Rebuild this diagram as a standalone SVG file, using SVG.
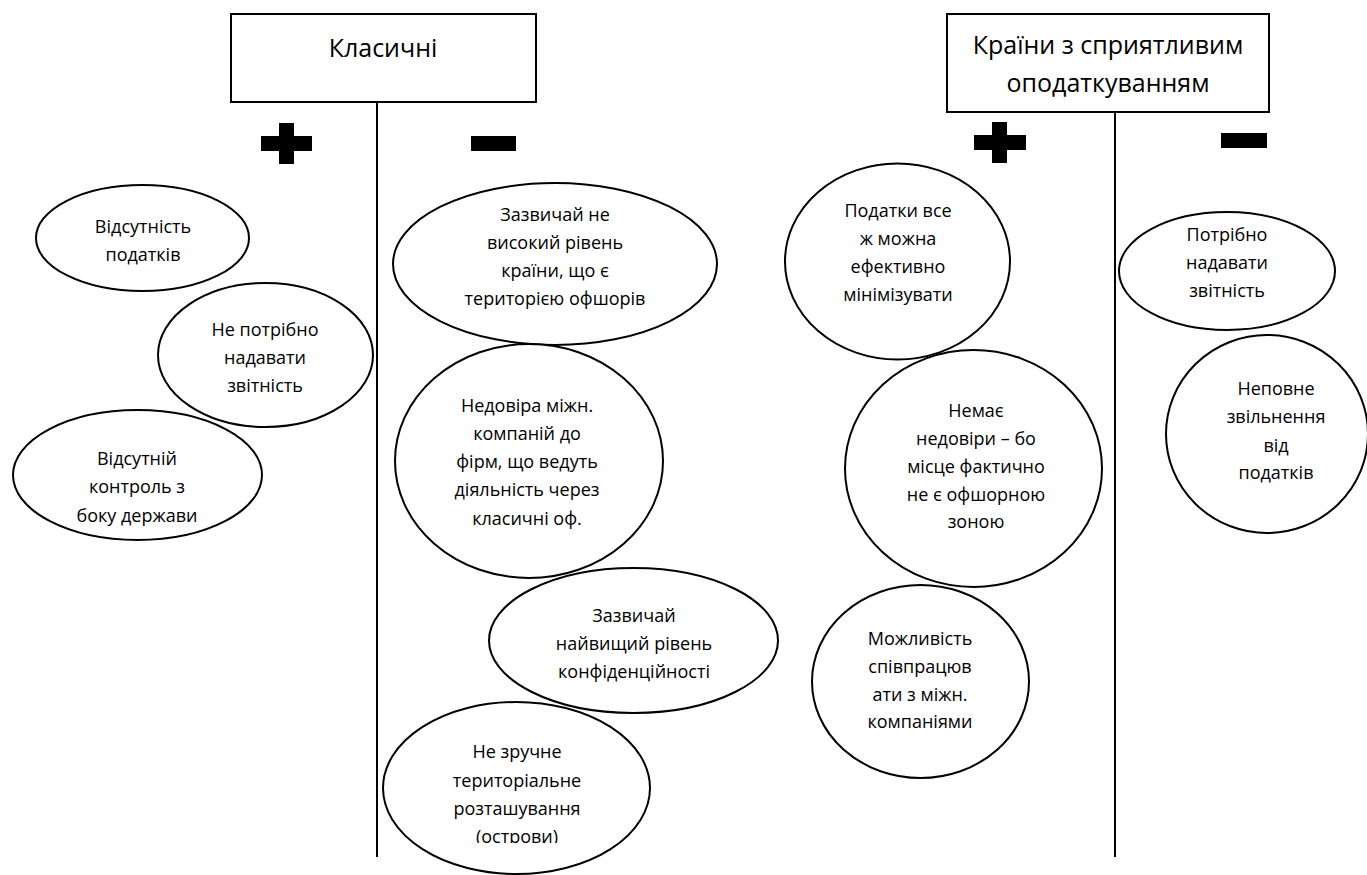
<svg xmlns="http://www.w3.org/2000/svg" width="1367" height="875" viewBox="0 0 1367 875">
<defs>
<style>
.box{fill:#fff;stroke:#000;stroke-width:2}
.ell{fill:#fff;stroke:#000;stroke-width:2}
.ln{stroke:#000;stroke-width:2;fill:none}
.sign{fill:#000}
.t{font-family:"Open Sans","Noto Sans",sans-serif;font-size:18px;fill:#000;text-anchor:middle}
.h{font-family:"Open Sans","Noto Sans",sans-serif;font-size:25px;fill:#000;text-anchor:middle}
</style>
<clipPath id="clipE7"><rect x="380" y="690" width="280" height="153"/></clipPath>
</defs>
<rect width="1367" height="875" fill="#fff"/>
<g id="connectors">
<line class="ln" x1="377" y1="102" x2="377" y2="857"/>
<line class="ln" x1="1115" y1="112" x2="1115" y2="857"/>
</g>
<g id="header-classic">
<rect class="box" x="231" y="14" width="305" height="88"/>
<text class="h" x="383" y="57">Класичні</text>
</g>
<g id="header-favourable">
<rect class="box" x="947" y="14" width="322" height="98"/>
<text class="h" x="1108" y="54">Країни з сприятливим</text>
<text class="h" x="1108" y="92">оподаткуванням</text>
</g>
<g id="plus-1" class="sign">
<rect x="261" y="136" width="51" height="15"/>
<rect x="279" y="123" width="15" height="41"/>
</g>
<g id="minus-1" class="sign"><rect x="471" y="136" width="45" height="15"/></g>
<g id="plus-2" class="sign">
<rect x="974" y="135" width="52" height="15"/>
<rect x="992" y="122" width="15" height="41"/>
</g>
<g id="minus-2" class="sign"><rect x="1221" y="133" width="46" height="15"/></g>

<g id="e1">
<ellipse class="ell" cx="142.5" cy="238" rx="106.5" ry="53"/>
<text class="t" x="143" y="233">Відсутність</text>
<text class="t" x="143" y="261">податків</text>
</g>
<g id="e2">
<ellipse class="ell" cx="265.5" cy="355" rx="107.5" ry="72"/>
<text class="t" x="265" y="336">Не потрібно</text>
<text class="t" x="265" y="364">надавати</text>
<text class="t" x="265" y="392">звітність</text>
</g>
<g id="e3">
<ellipse class="ell" cx="137.5" cy="475" rx="124.5" ry="65"/>
<text class="t" x="137" y="465">Відсутній</text>
<text class="t" x="137" y="493">контроль з</text>
<text class="t" x="137" y="522">боку держави</text>
</g>
<g id="e4">
<ellipse class="ell" cx="555" cy="264" rx="162" ry="81"/>
<text class="t" x="555" y="221">Зазвичай не</text>
<text class="t" x="555" y="249">високий рівень</text>
<text class="t" x="555" y="277">країни, що є</text>
<text class="t" x="555" y="305">територією офшорів</text>
</g>
<g id="e5">
<ellipse class="ell" cx="529" cy="461" rx="134" ry="117"/>
<text class="t" x="527" y="412">Недовіра міжн.</text>
<text class="t" x="527" y="440">компаній до</text>
<text class="t" x="527" y="468">фірм, що ведуть</text>
<text class="t" x="527" y="496">діяльність через</text>
<text class="t" x="527" y="525">класичні оф.</text>
</g>
<g id="e6">
<ellipse class="ell" cx="633.5" cy="640.5" rx="144.5" ry="72.5"/>
<text class="t" x="634" y="622">Зазвичай</text>
<text class="t" x="634" y="650">найвищий рівень</text>
<text class="t" x="634" y="678">конфіденційності</text>
</g>
<g id="e7">
<ellipse class="ell" cx="516.5" cy="788" rx="133.5" ry="86"/>
<g clip-path="url(#clipE7)">
<text class="t" x="517" y="758">Не зручне</text>
<text class="t" x="517" y="787">територіальне</text>
<text class="t" x="517" y="815">розташування</text>
<text class="t" x="517" y="843">(острови)</text>
</g>
</g>
<g id="e8">
<ellipse class="ell" cx="897.5" cy="261.5" rx="112.5" ry="98"/>
<text class="t" x="898" y="217">Податки все</text>
<text class="t" x="898" y="245">ж можна</text>
<text class="t" x="898" y="273">ефективно</text>
<text class="t" x="898" y="301">мінімізувати</text>
</g>
<g id="e9">
<ellipse class="ell" cx="973.5" cy="468.5" rx="128.5" ry="118.5"/>
<text class="t" x="976" y="417">Немає</text>
<text class="t" x="976" y="445">недовіри – бо</text>
<text class="t" x="976" y="473">місце фактично</text>
<text class="t" x="976" y="501">не є офшорною</text>
<text class="t" x="976" y="528">зоною</text>
</g>
<g id="e10">
<ellipse class="ell" cx="920.5" cy="681.5" rx="108.5" ry="96.5"/>
<text class="t" x="920" y="645">Можливість</text>
<text class="t" x="920" y="673">співпрацюв</text>
<text class="t" x="920" y="701">ати з міжн.</text>
<text class="t" x="920" y="728">компаніями</text>
</g>
<g id="e11">
<ellipse class="ell" cx="1227" cy="271" rx="108" ry="59"/>
<text class="t" x="1227" y="241">Потрібно</text>
<text class="t" x="1227" y="269">надавати</text>
<text class="t" x="1227" y="297">звітність</text>
</g>
<g id="e12">
<ellipse class="ell" cx="1267" cy="434" rx="101" ry="99"/>
<text class="t" x="1276" y="395">Неповне</text>
<text class="t" x="1276" y="423">звільнення</text>
<text class="t" x="1276" y="452">від</text>
<text class="t" x="1276" y="479">податків</text>
</g>
</svg>
